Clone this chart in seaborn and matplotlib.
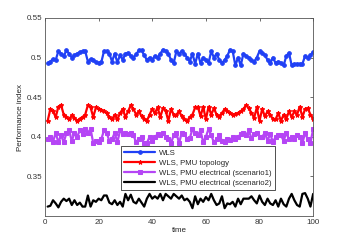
import numpy as np
import pandas as pd
import matplotlib
matplotlib.use("Agg")
import matplotlib.pyplot as plt
import seaborn as sns

# ----------------------- data -----------------------
TIME = list(range(1, 101))

WLS = [0.493, 0.495, 0.498, 0.497, 0.508, 0.505, 0.502, 0.509, 0.505, 0.500,
       0.503, 0.505, 0.507, 0.508, 0.508, 0.495, 0.498, 0.497, 0.494, 0.493,
       0.494, 0.508, 0.508, 0.505, 0.495, 0.505, 0.494, 0.503, 0.497, 0.505,
       0.506, 0.502, 0.500, 0.504, 0.509, 0.509, 0.503, 0.497, 0.500, 0.497,
       0.502, 0.500, 0.505, 0.510, 0.508, 0.505, 0.497, 0.493, 0.508, 0.505,
       0.508, 0.505, 0.500, 0.495, 0.505, 0.492, 0.505, 0.493, 0.500, 0.497,
       0.493, 0.508, 0.500, 0.505, 0.497, 0.493, 0.497, 0.502, 0.510, 0.508,
       0.490, 0.500, 0.490, 0.505, 0.502, 0.500, 0.497, 0.495, 0.500, 0.508,
       0.506, 0.503, 0.497, 0.493, 0.500, 0.493, 0.495, 0.493, 0.490, 0.502,
       0.506, 0.490, 0.492, 0.492, 0.492, 0.492, 0.502, 0.500, 0.503, 0.507]

PMU_TOPOLOGY = [0.420, 0.435, 0.432, 0.425, 0.438, 0.440, 0.428, 0.425, 0.422, 0.427,
                0.424, 0.420, 0.423, 0.425, 0.428, 0.440, 0.437, 0.425, 0.437, 0.435,
                0.434, 0.432, 0.430, 0.425, 0.422, 0.428, 0.422, 0.430, 0.435, 0.425,
                0.432, 0.440, 0.435, 0.428, 0.432, 0.426, 0.423, 0.420, 0.428, 0.435,
                0.430, 0.437, 0.425, 0.436, 0.433, 0.420, 0.435, 0.428, 0.428, 0.432,
                0.426, 0.422, 0.420, 0.425, 0.428, 0.437, 0.438, 0.426, 0.438, 0.422,
                0.438, 0.428, 0.436, 0.428, 0.425, 0.430, 0.435, 0.432, 0.430, 0.428,
                0.429, 0.430, 0.432, 0.435, 0.440, 0.436, 0.430, 0.424, 0.437, 0.420,
                0.435, 0.426, 0.432, 0.427, 0.423, 0.422, 0.430, 0.420, 0.428, 0.423,
                0.432, 0.425, 0.432, 0.428, 0.438, 0.425, 0.435, 0.436, 0.428, 0.423]

PMU_SCEN1 = [0.397, 0.400, 0.394, 0.405, 0.393, 0.402, 0.393, 0.405, 0.408, 0.395,
             0.405, 0.400, 0.408, 0.404, 0.410, 0.405, 0.410, 0.392, 0.395, 0.393,
             0.397, 0.408, 0.405, 0.395, 0.397, 0.405, 0.393, 0.408, 0.404, 0.405,
             0.403, 0.405, 0.402, 0.393, 0.397, 0.400, 0.392, 0.392, 0.400, 0.395,
             0.400, 0.403, 0.402, 0.405, 0.400, 0.397, 0.392, 0.402, 0.405, 0.392,
             0.405, 0.404, 0.397, 0.398, 0.410, 0.405, 0.402, 0.408, 0.393, 0.400,
             0.410, 0.402, 0.393, 0.397, 0.402, 0.395, 0.393, 0.397, 0.396, 0.400,
             0.397, 0.400, 0.403, 0.405, 0.402, 0.408, 0.398, 0.403, 0.405, 0.400,
             0.400, 0.405, 0.395, 0.404, 0.393, 0.400, 0.402, 0.402, 0.395, 0.405,
             0.397, 0.400, 0.397, 0.402, 0.400, 0.392, 0.405, 0.397, 0.392, 0.410]

PMU_SCEN2 = [0.312, 0.313, 0.320, 0.316, 0.311, 0.318, 0.322, 0.319, 0.322, 0.314,
             0.320, 0.314, 0.317, 0.312, 0.312, 0.326, 0.312, 0.320, 0.318, 0.322,
             0.320, 0.326, 0.326, 0.317, 0.315, 0.320, 0.314, 0.318, 0.312, 0.328,
             0.320, 0.327, 0.318, 0.316, 0.322, 0.317, 0.312, 0.322, 0.328, 0.322,
             0.325, 0.322, 0.328, 0.320, 0.328, 0.325, 0.322, 0.328, 0.325, 0.322,
             0.326, 0.320, 0.322, 0.318, 0.310, 0.325, 0.315, 0.322, 0.318, 0.324,
             0.320, 0.328, 0.320, 0.314, 0.316, 0.325, 0.310, 0.316, 0.315, 0.318,
             0.312, 0.322, 0.315, 0.322, 0.322, 0.322, 0.325, 0.320, 0.316, 0.326,
             0.318, 0.314, 0.322, 0.316, 0.314, 0.320, 0.312, 0.322, 0.315, 0.312,
             0.322, 0.328, 0.320, 0.314, 0.312, 0.328, 0.329, 0.322, 0.312, 0.328]

LABELS = ["WLS", "WLS, PMU topology",
          "WLS, PMU electrical (scenario1)", "WLS, PMU electrical (scenario2)"]
# ---------------------------------------------------------------------------

sns.set_style("white")
plt.rcParams["font.family"] = ["Liberation Sans", "DejaVu Sans"]


def main():
    fig = plt.figure(figsize=(3.46, 2.42), dpi=100)
    ax = fig.add_axes([0.130, 0.107, 0.775, 0.819])

    series = [WLS, PMU_TOPOLOGY, PMU_SCEN1, PMU_SCEN2]
    colors = ["#2040f5", "#ff0000", "#b545f5", "#000000"]
    markers = ["o", "*", "s", None]
    msizes = [2.6, 3.2, 2.2, 0]

    for vals, lab, col, mk, ms in zip(series, LABELS, colors, markers, msizes):
        df = pd.DataFrame({"time": TIME, "value": vals})
        sns.lineplot(data=df, x="time", y="value", ax=ax, color=col, lw=1.6,
                     marker=mk, markersize=ms, markeredgecolor=col, label=lab)

    ax.set_xlim(0, 100)
    ax.set_ylim(0.30, 0.55)
    ax.set_xticks([0, 20, 40, 60, 80, 100])
    ax.set_yticks([0.35, 0.4, 0.45, 0.5, 0.55])
    ax.set_yticklabels(["0.35", "0.4", "0.45", "0.5", "0.55"])
    ax.tick_params(direction="in", length=2.5, labelsize=5.8, width=0.5,
                   top=True, right=True, pad=2, colors="#333333")
    for s in ax.spines.values():
        s.set_linewidth(0.6)
        s.set_color("#555555")
    ax.set_xlabel("time", fontsize=5.8, labelpad=1)
    ax.set_ylabel("Performance index", fontsize=5.8, labelpad=2)

    leg = ax.legend(loc="lower left", bbox_to_anchor=(0.284, 0.131), fontsize=5.6,
                    frameon=True, fancybox=False, edgecolor="black",
                    borderpad=0.4, labelspacing=0.35, handlelength=4.0,
                    handletextpad=0.5, borderaxespad=0)
    leg.get_frame().set_linewidth(0.6)

    fig.savefig("out.png", dpi=100)
    plt.close(fig)


if __name__ == "__main__":
    main()
